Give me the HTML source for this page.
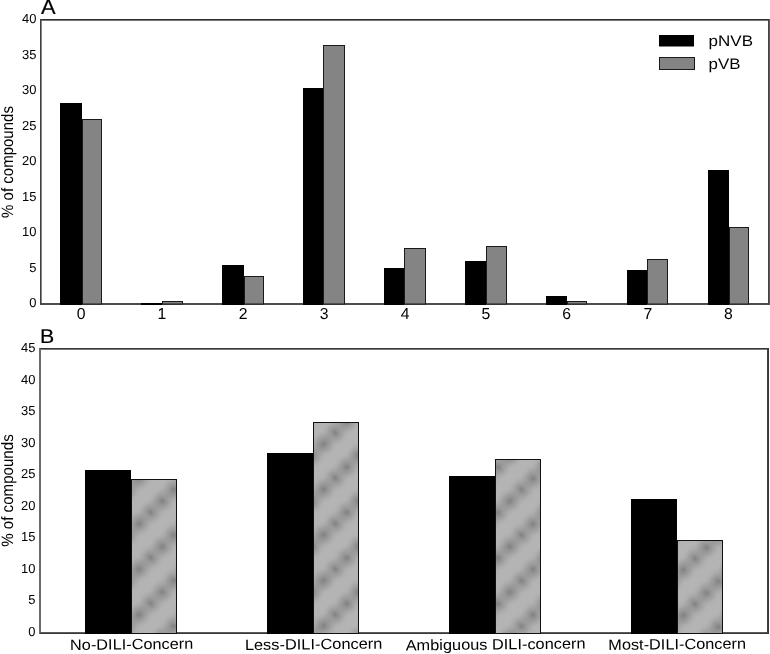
<!DOCTYPE html>
<html><head><meta charset="utf-8"><style>html,body{margin:0;padding:0;background:#fff;overflow:hidden}svg{display:block;filter:blur(0.3px)}</style></head><body>
<svg width="770" height="654" viewBox="0 0 770 654" font-family="'Liberation Sans', Arial, Helvetica, sans-serif" text-rendering="geometricPrecision">
<defs><radialGradient id="blob"><stop offset="0" stop-color="#7a7a7a" stop-opacity="0.9"/><stop offset="0.5" stop-color="#909090" stop-opacity="0.5"/><stop offset="1" stop-color="#b4b4b4" stop-opacity="0"/></radialGradient><pattern id="pB0" patternUnits="userSpaceOnUse" x="150.7" y="512.2" width="47.0" height="45.5"><rect width="47.0" height="45.5" fill="#b4b4b4"/><ellipse cx="-47.00" cy="-45.50" rx="16" ry="14" transform="rotate(-45 -47.00 -45.50)" fill="url(#blob)"/><ellipse cx="-47.00" cy="0.00" rx="16" ry="14" transform="rotate(-45 -47.00 0.00)" fill="url(#blob)"/><ellipse cx="-47.00" cy="45.50" rx="16" ry="14" transform="rotate(-45 -47.00 45.50)" fill="url(#blob)"/><ellipse cx="0.00" cy="-45.50" rx="16" ry="14" transform="rotate(-45 0.00 -45.50)" fill="url(#blob)"/><ellipse cx="0.00" cy="0.00" rx="16" ry="14" transform="rotate(-45 0.00 0.00)" fill="url(#blob)"/><ellipse cx="0.00" cy="45.50" rx="16" ry="14" transform="rotate(-45 0.00 45.50)" fill="url(#blob)"/><ellipse cx="47.00" cy="-45.50" rx="16" ry="14" transform="rotate(-45 47.00 -45.50)" fill="url(#blob)"/><ellipse cx="47.00" cy="0.00" rx="16" ry="14" transform="rotate(-45 47.00 0.00)" fill="url(#blob)"/><ellipse cx="47.00" cy="45.50" rx="16" ry="14" transform="rotate(-45 47.00 45.50)" fill="url(#blob)"/><ellipse cx="-35.25" cy="-11.38" rx="16" ry="14" transform="rotate(-45 -35.25 -11.38)" fill="url(#blob)"/><ellipse cx="-35.25" cy="34.12" rx="16" ry="14" transform="rotate(-45 -35.25 34.12)" fill="url(#blob)"/><ellipse cx="-35.25" cy="79.62" rx="16" ry="14" transform="rotate(-45 -35.25 79.62)" fill="url(#blob)"/><ellipse cx="11.75" cy="-11.38" rx="16" ry="14" transform="rotate(-45 11.75 -11.38)" fill="url(#blob)"/><ellipse cx="11.75" cy="34.12" rx="16" ry="14" transform="rotate(-45 11.75 34.12)" fill="url(#blob)"/><ellipse cx="11.75" cy="79.62" rx="16" ry="14" transform="rotate(-45 11.75 79.62)" fill="url(#blob)"/><ellipse cx="58.75" cy="-11.38" rx="16" ry="14" transform="rotate(-45 58.75 -11.38)" fill="url(#blob)"/><ellipse cx="58.75" cy="34.12" rx="16" ry="14" transform="rotate(-45 58.75 34.12)" fill="url(#blob)"/><ellipse cx="58.75" cy="79.62" rx="16" ry="14" transform="rotate(-45 58.75 79.62)" fill="url(#blob)"/><ellipse cx="-23.50" cy="-22.75" rx="16" ry="14" transform="rotate(-45 -23.50 -22.75)" fill="url(#blob)"/><ellipse cx="-23.50" cy="22.75" rx="16" ry="14" transform="rotate(-45 -23.50 22.75)" fill="url(#blob)"/><ellipse cx="-23.50" cy="68.25" rx="16" ry="14" transform="rotate(-45 -23.50 68.25)" fill="url(#blob)"/><ellipse cx="23.50" cy="-22.75" rx="16" ry="14" transform="rotate(-45 23.50 -22.75)" fill="url(#blob)"/><ellipse cx="23.50" cy="22.75" rx="16" ry="14" transform="rotate(-45 23.50 22.75)" fill="url(#blob)"/><ellipse cx="23.50" cy="68.25" rx="16" ry="14" transform="rotate(-45 23.50 68.25)" fill="url(#blob)"/><ellipse cx="70.50" cy="-22.75" rx="16" ry="14" transform="rotate(-45 70.50 -22.75)" fill="url(#blob)"/><ellipse cx="70.50" cy="22.75" rx="16" ry="14" transform="rotate(-45 70.50 22.75)" fill="url(#blob)"/><ellipse cx="70.50" cy="68.25" rx="16" ry="14" transform="rotate(-45 70.50 68.25)" fill="url(#blob)"/><ellipse cx="-11.75" cy="-34.12" rx="16" ry="14" transform="rotate(-45 -11.75 -34.12)" fill="url(#blob)"/><ellipse cx="-11.75" cy="11.38" rx="16" ry="14" transform="rotate(-45 -11.75 11.38)" fill="url(#blob)"/><ellipse cx="-11.75" cy="56.88" rx="16" ry="14" transform="rotate(-45 -11.75 56.88)" fill="url(#blob)"/><ellipse cx="35.25" cy="-34.12" rx="16" ry="14" transform="rotate(-45 35.25 -34.12)" fill="url(#blob)"/><ellipse cx="35.25" cy="11.38" rx="16" ry="14" transform="rotate(-45 35.25 11.38)" fill="url(#blob)"/><ellipse cx="35.25" cy="56.88" rx="16" ry="14" transform="rotate(-45 35.25 56.88)" fill="url(#blob)"/><ellipse cx="82.25" cy="-34.12" rx="16" ry="14" transform="rotate(-45 82.25 -34.12)" fill="url(#blob)"/><ellipse cx="82.25" cy="11.38" rx="16" ry="14" transform="rotate(-45 82.25 11.38)" fill="url(#blob)"/><ellipse cx="82.25" cy="56.88" rx="16" ry="14" transform="rotate(-45 82.25 56.88)" fill="url(#blob)"/></pattern><pattern id="pB1" patternUnits="userSpaceOnUse" x="335.25" y="432.6" width="47.0" height="45.5"><rect width="47.0" height="45.5" fill="#b4b4b4"/><ellipse cx="-47.00" cy="-45.50" rx="16" ry="14" transform="rotate(-45 -47.00 -45.50)" fill="url(#blob)"/><ellipse cx="-47.00" cy="0.00" rx="16" ry="14" transform="rotate(-45 -47.00 0.00)" fill="url(#blob)"/><ellipse cx="-47.00" cy="45.50" rx="16" ry="14" transform="rotate(-45 -47.00 45.50)" fill="url(#blob)"/><ellipse cx="0.00" cy="-45.50" rx="16" ry="14" transform="rotate(-45 0.00 -45.50)" fill="url(#blob)"/><ellipse cx="0.00" cy="0.00" rx="16" ry="14" transform="rotate(-45 0.00 0.00)" fill="url(#blob)"/><ellipse cx="0.00" cy="45.50" rx="16" ry="14" transform="rotate(-45 0.00 45.50)" fill="url(#blob)"/><ellipse cx="47.00" cy="-45.50" rx="16" ry="14" transform="rotate(-45 47.00 -45.50)" fill="url(#blob)"/><ellipse cx="47.00" cy="0.00" rx="16" ry="14" transform="rotate(-45 47.00 0.00)" fill="url(#blob)"/><ellipse cx="47.00" cy="45.50" rx="16" ry="14" transform="rotate(-45 47.00 45.50)" fill="url(#blob)"/><ellipse cx="-35.25" cy="-11.38" rx="16" ry="14" transform="rotate(-45 -35.25 -11.38)" fill="url(#blob)"/><ellipse cx="-35.25" cy="34.12" rx="16" ry="14" transform="rotate(-45 -35.25 34.12)" fill="url(#blob)"/><ellipse cx="-35.25" cy="79.62" rx="16" ry="14" transform="rotate(-45 -35.25 79.62)" fill="url(#blob)"/><ellipse cx="11.75" cy="-11.38" rx="16" ry="14" transform="rotate(-45 11.75 -11.38)" fill="url(#blob)"/><ellipse cx="11.75" cy="34.12" rx="16" ry="14" transform="rotate(-45 11.75 34.12)" fill="url(#blob)"/><ellipse cx="11.75" cy="79.62" rx="16" ry="14" transform="rotate(-45 11.75 79.62)" fill="url(#blob)"/><ellipse cx="58.75" cy="-11.38" rx="16" ry="14" transform="rotate(-45 58.75 -11.38)" fill="url(#blob)"/><ellipse cx="58.75" cy="34.12" rx="16" ry="14" transform="rotate(-45 58.75 34.12)" fill="url(#blob)"/><ellipse cx="58.75" cy="79.62" rx="16" ry="14" transform="rotate(-45 58.75 79.62)" fill="url(#blob)"/><ellipse cx="-23.50" cy="-22.75" rx="16" ry="14" transform="rotate(-45 -23.50 -22.75)" fill="url(#blob)"/><ellipse cx="-23.50" cy="22.75" rx="16" ry="14" transform="rotate(-45 -23.50 22.75)" fill="url(#blob)"/><ellipse cx="-23.50" cy="68.25" rx="16" ry="14" transform="rotate(-45 -23.50 68.25)" fill="url(#blob)"/><ellipse cx="23.50" cy="-22.75" rx="16" ry="14" transform="rotate(-45 23.50 -22.75)" fill="url(#blob)"/><ellipse cx="23.50" cy="22.75" rx="16" ry="14" transform="rotate(-45 23.50 22.75)" fill="url(#blob)"/><ellipse cx="23.50" cy="68.25" rx="16" ry="14" transform="rotate(-45 23.50 68.25)" fill="url(#blob)"/><ellipse cx="70.50" cy="-22.75" rx="16" ry="14" transform="rotate(-45 70.50 -22.75)" fill="url(#blob)"/><ellipse cx="70.50" cy="22.75" rx="16" ry="14" transform="rotate(-45 70.50 22.75)" fill="url(#blob)"/><ellipse cx="70.50" cy="68.25" rx="16" ry="14" transform="rotate(-45 70.50 68.25)" fill="url(#blob)"/><ellipse cx="-11.75" cy="-34.12" rx="16" ry="14" transform="rotate(-45 -11.75 -34.12)" fill="url(#blob)"/><ellipse cx="-11.75" cy="11.38" rx="16" ry="14" transform="rotate(-45 -11.75 11.38)" fill="url(#blob)"/><ellipse cx="-11.75" cy="56.88" rx="16" ry="14" transform="rotate(-45 -11.75 56.88)" fill="url(#blob)"/><ellipse cx="35.25" cy="-34.12" rx="16" ry="14" transform="rotate(-45 35.25 -34.12)" fill="url(#blob)"/><ellipse cx="35.25" cy="11.38" rx="16" ry="14" transform="rotate(-45 35.25 11.38)" fill="url(#blob)"/><ellipse cx="35.25" cy="56.88" rx="16" ry="14" transform="rotate(-45 35.25 56.88)" fill="url(#blob)"/><ellipse cx="82.25" cy="-34.12" rx="16" ry="14" transform="rotate(-45 82.25 -34.12)" fill="url(#blob)"/><ellipse cx="82.25" cy="11.38" rx="16" ry="14" transform="rotate(-45 82.25 11.38)" fill="url(#blob)"/><ellipse cx="82.25" cy="56.88" rx="16" ry="14" transform="rotate(-45 82.25 56.88)" fill="url(#blob)"/></pattern><pattern id="pB2" patternUnits="userSpaceOnUse" x="521.5" y="489.7" width="47.0" height="45.5"><rect width="47.0" height="45.5" fill="#b4b4b4"/><ellipse cx="-47.00" cy="-45.50" rx="16" ry="14" transform="rotate(-45 -47.00 -45.50)" fill="url(#blob)"/><ellipse cx="-47.00" cy="0.00" rx="16" ry="14" transform="rotate(-45 -47.00 0.00)" fill="url(#blob)"/><ellipse cx="-47.00" cy="45.50" rx="16" ry="14" transform="rotate(-45 -47.00 45.50)" fill="url(#blob)"/><ellipse cx="0.00" cy="-45.50" rx="16" ry="14" transform="rotate(-45 0.00 -45.50)" fill="url(#blob)"/><ellipse cx="0.00" cy="0.00" rx="16" ry="14" transform="rotate(-45 0.00 0.00)" fill="url(#blob)"/><ellipse cx="0.00" cy="45.50" rx="16" ry="14" transform="rotate(-45 0.00 45.50)" fill="url(#blob)"/><ellipse cx="47.00" cy="-45.50" rx="16" ry="14" transform="rotate(-45 47.00 -45.50)" fill="url(#blob)"/><ellipse cx="47.00" cy="0.00" rx="16" ry="14" transform="rotate(-45 47.00 0.00)" fill="url(#blob)"/><ellipse cx="47.00" cy="45.50" rx="16" ry="14" transform="rotate(-45 47.00 45.50)" fill="url(#blob)"/><ellipse cx="-35.25" cy="-11.38" rx="16" ry="14" transform="rotate(-45 -35.25 -11.38)" fill="url(#blob)"/><ellipse cx="-35.25" cy="34.12" rx="16" ry="14" transform="rotate(-45 -35.25 34.12)" fill="url(#blob)"/><ellipse cx="-35.25" cy="79.62" rx="16" ry="14" transform="rotate(-45 -35.25 79.62)" fill="url(#blob)"/><ellipse cx="11.75" cy="-11.38" rx="16" ry="14" transform="rotate(-45 11.75 -11.38)" fill="url(#blob)"/><ellipse cx="11.75" cy="34.12" rx="16" ry="14" transform="rotate(-45 11.75 34.12)" fill="url(#blob)"/><ellipse cx="11.75" cy="79.62" rx="16" ry="14" transform="rotate(-45 11.75 79.62)" fill="url(#blob)"/><ellipse cx="58.75" cy="-11.38" rx="16" ry="14" transform="rotate(-45 58.75 -11.38)" fill="url(#blob)"/><ellipse cx="58.75" cy="34.12" rx="16" ry="14" transform="rotate(-45 58.75 34.12)" fill="url(#blob)"/><ellipse cx="58.75" cy="79.62" rx="16" ry="14" transform="rotate(-45 58.75 79.62)" fill="url(#blob)"/><ellipse cx="-23.50" cy="-22.75" rx="16" ry="14" transform="rotate(-45 -23.50 -22.75)" fill="url(#blob)"/><ellipse cx="-23.50" cy="22.75" rx="16" ry="14" transform="rotate(-45 -23.50 22.75)" fill="url(#blob)"/><ellipse cx="-23.50" cy="68.25" rx="16" ry="14" transform="rotate(-45 -23.50 68.25)" fill="url(#blob)"/><ellipse cx="23.50" cy="-22.75" rx="16" ry="14" transform="rotate(-45 23.50 -22.75)" fill="url(#blob)"/><ellipse cx="23.50" cy="22.75" rx="16" ry="14" transform="rotate(-45 23.50 22.75)" fill="url(#blob)"/><ellipse cx="23.50" cy="68.25" rx="16" ry="14" transform="rotate(-45 23.50 68.25)" fill="url(#blob)"/><ellipse cx="70.50" cy="-22.75" rx="16" ry="14" transform="rotate(-45 70.50 -22.75)" fill="url(#blob)"/><ellipse cx="70.50" cy="22.75" rx="16" ry="14" transform="rotate(-45 70.50 22.75)" fill="url(#blob)"/><ellipse cx="70.50" cy="68.25" rx="16" ry="14" transform="rotate(-45 70.50 68.25)" fill="url(#blob)"/><ellipse cx="-11.75" cy="-34.12" rx="16" ry="14" transform="rotate(-45 -11.75 -34.12)" fill="url(#blob)"/><ellipse cx="-11.75" cy="11.38" rx="16" ry="14" transform="rotate(-45 -11.75 11.38)" fill="url(#blob)"/><ellipse cx="-11.75" cy="56.88" rx="16" ry="14" transform="rotate(-45 -11.75 56.88)" fill="url(#blob)"/><ellipse cx="35.25" cy="-34.12" rx="16" ry="14" transform="rotate(-45 35.25 -34.12)" fill="url(#blob)"/><ellipse cx="35.25" cy="11.38" rx="16" ry="14" transform="rotate(-45 35.25 11.38)" fill="url(#blob)"/><ellipse cx="35.25" cy="56.88" rx="16" ry="14" transform="rotate(-45 35.25 56.88)" fill="url(#blob)"/><ellipse cx="82.25" cy="-34.12" rx="16" ry="14" transform="rotate(-45 82.25 -34.12)" fill="url(#blob)"/><ellipse cx="82.25" cy="11.38" rx="16" ry="14" transform="rotate(-45 82.25 11.38)" fill="url(#blob)"/><ellipse cx="82.25" cy="56.88" rx="16" ry="14" transform="rotate(-45 82.25 56.88)" fill="url(#blob)"/></pattern><pattern id="pB3" patternUnits="userSpaceOnUse" x="695" y="558.6" width="47.0" height="45.5"><rect width="47.0" height="45.5" fill="#b4b4b4"/><ellipse cx="-47.00" cy="-45.50" rx="16" ry="14" transform="rotate(-45 -47.00 -45.50)" fill="url(#blob)"/><ellipse cx="-47.00" cy="0.00" rx="16" ry="14" transform="rotate(-45 -47.00 0.00)" fill="url(#blob)"/><ellipse cx="-47.00" cy="45.50" rx="16" ry="14" transform="rotate(-45 -47.00 45.50)" fill="url(#blob)"/><ellipse cx="0.00" cy="-45.50" rx="16" ry="14" transform="rotate(-45 0.00 -45.50)" fill="url(#blob)"/><ellipse cx="0.00" cy="0.00" rx="16" ry="14" transform="rotate(-45 0.00 0.00)" fill="url(#blob)"/><ellipse cx="0.00" cy="45.50" rx="16" ry="14" transform="rotate(-45 0.00 45.50)" fill="url(#blob)"/><ellipse cx="47.00" cy="-45.50" rx="16" ry="14" transform="rotate(-45 47.00 -45.50)" fill="url(#blob)"/><ellipse cx="47.00" cy="0.00" rx="16" ry="14" transform="rotate(-45 47.00 0.00)" fill="url(#blob)"/><ellipse cx="47.00" cy="45.50" rx="16" ry="14" transform="rotate(-45 47.00 45.50)" fill="url(#blob)"/><ellipse cx="-35.25" cy="-11.38" rx="16" ry="14" transform="rotate(-45 -35.25 -11.38)" fill="url(#blob)"/><ellipse cx="-35.25" cy="34.12" rx="16" ry="14" transform="rotate(-45 -35.25 34.12)" fill="url(#blob)"/><ellipse cx="-35.25" cy="79.62" rx="16" ry="14" transform="rotate(-45 -35.25 79.62)" fill="url(#blob)"/><ellipse cx="11.75" cy="-11.38" rx="16" ry="14" transform="rotate(-45 11.75 -11.38)" fill="url(#blob)"/><ellipse cx="11.75" cy="34.12" rx="16" ry="14" transform="rotate(-45 11.75 34.12)" fill="url(#blob)"/><ellipse cx="11.75" cy="79.62" rx="16" ry="14" transform="rotate(-45 11.75 79.62)" fill="url(#blob)"/><ellipse cx="58.75" cy="-11.38" rx="16" ry="14" transform="rotate(-45 58.75 -11.38)" fill="url(#blob)"/><ellipse cx="58.75" cy="34.12" rx="16" ry="14" transform="rotate(-45 58.75 34.12)" fill="url(#blob)"/><ellipse cx="58.75" cy="79.62" rx="16" ry="14" transform="rotate(-45 58.75 79.62)" fill="url(#blob)"/><ellipse cx="-23.50" cy="-22.75" rx="16" ry="14" transform="rotate(-45 -23.50 -22.75)" fill="url(#blob)"/><ellipse cx="-23.50" cy="22.75" rx="16" ry="14" transform="rotate(-45 -23.50 22.75)" fill="url(#blob)"/><ellipse cx="-23.50" cy="68.25" rx="16" ry="14" transform="rotate(-45 -23.50 68.25)" fill="url(#blob)"/><ellipse cx="23.50" cy="-22.75" rx="16" ry="14" transform="rotate(-45 23.50 -22.75)" fill="url(#blob)"/><ellipse cx="23.50" cy="22.75" rx="16" ry="14" transform="rotate(-45 23.50 22.75)" fill="url(#blob)"/><ellipse cx="23.50" cy="68.25" rx="16" ry="14" transform="rotate(-45 23.50 68.25)" fill="url(#blob)"/><ellipse cx="70.50" cy="-22.75" rx="16" ry="14" transform="rotate(-45 70.50 -22.75)" fill="url(#blob)"/><ellipse cx="70.50" cy="22.75" rx="16" ry="14" transform="rotate(-45 70.50 22.75)" fill="url(#blob)"/><ellipse cx="70.50" cy="68.25" rx="16" ry="14" transform="rotate(-45 70.50 68.25)" fill="url(#blob)"/><ellipse cx="-11.75" cy="-34.12" rx="16" ry="14" transform="rotate(-45 -11.75 -34.12)" fill="url(#blob)"/><ellipse cx="-11.75" cy="11.38" rx="16" ry="14" transform="rotate(-45 -11.75 11.38)" fill="url(#blob)"/><ellipse cx="-11.75" cy="56.88" rx="16" ry="14" transform="rotate(-45 -11.75 56.88)" fill="url(#blob)"/><ellipse cx="35.25" cy="-34.12" rx="16" ry="14" transform="rotate(-45 35.25 -34.12)" fill="url(#blob)"/><ellipse cx="35.25" cy="11.38" rx="16" ry="14" transform="rotate(-45 35.25 11.38)" fill="url(#blob)"/><ellipse cx="35.25" cy="56.88" rx="16" ry="14" transform="rotate(-45 35.25 56.88)" fill="url(#blob)"/><ellipse cx="82.25" cy="-34.12" rx="16" ry="14" transform="rotate(-45 82.25 -34.12)" fill="url(#blob)"/><ellipse cx="82.25" cy="11.38" rx="16" ry="14" transform="rotate(-45 82.25 11.38)" fill="url(#blob)"/><ellipse cx="82.25" cy="56.88" rx="16" ry="14" transform="rotate(-45 82.25 56.88)" fill="url(#blob)"/></pattern></defs>
<rect width="770" height="654" fill="#fff"/>
<rect x="40" y="19" width="730" height="1" fill="#303030"/>
<rect x="40" y="20" width="730" height="1" fill="#747474"/>
<rect x="40" y="303" width="730" height="1" fill="#4d4d4d"/>
<rect x="40" y="304" width="730" height="1" fill="#4d4d4d"/>
<rect x="40" y="19" width="1" height="286" fill="#404040"/>
<rect x="41" y="21" width="1" height="282" fill="#858585"/>
<rect x="768" y="20" width="1" height="285" fill="#444"/>
<rect x="769" y="19" width="1" height="286" fill="#5a5a5a"/>
<rect x="60" y="103" width="22" height="202" fill="#000"/>
<rect x="82.5" y="119.5" width="19" height="184.5" fill="#848484" stroke="#1a1a1a" stroke-width="1"/>
<rect x="141" y="303" width="21" height="2" fill="#000"/>
<rect x="162.5" y="301.5" width="20" height="2.5" fill="#848484" stroke="#1a1a1a" stroke-width="1"/>
<rect x="222" y="265" width="22" height="40" fill="#000"/>
<rect x="244.5" y="276.5" width="19" height="27.5" fill="#848484" stroke="#1a1a1a" stroke-width="1"/>
<rect x="303" y="88" width="20" height="217" fill="#000"/>
<rect x="323.5" y="45.5" width="21" height="258.5" fill="#848484" stroke="#1a1a1a" stroke-width="1"/>
<rect x="384" y="268" width="20" height="37" fill="#000"/>
<rect x="404.5" y="248.5" width="21" height="55.5" fill="#848484" stroke="#1a1a1a" stroke-width="1"/>
<rect x="465" y="261" width="21" height="44" fill="#000"/>
<rect x="486.5" y="246.5" width="20" height="57.5" fill="#848484" stroke="#1a1a1a" stroke-width="1"/>
<rect x="546" y="296" width="21" height="9" fill="#000"/>
<rect x="567.5" y="301.5" width="19" height="2.5" fill="#848484" stroke="#1a1a1a" stroke-width="1"/>
<rect x="627" y="270" width="20" height="35" fill="#000"/>
<rect x="647.5" y="259.5" width="20" height="44.5" fill="#848484" stroke="#1a1a1a" stroke-width="1"/>
<rect x="708" y="170" width="21" height="135" fill="#000"/>
<rect x="729.5" y="227.5" width="19" height="76.5" fill="#848484" stroke="#1a1a1a" stroke-width="1"/>
<text transform="translate(29.23,307.00) scale(0.9969,1)" font-size="13" fill="#000">0</text>
<text transform="translate(29.23,271.50) scale(0.9969,1)" font-size="13" fill="#000">5</text>
<text transform="translate(22.03,236.00) scale(0.9969,1)" font-size="13" fill="#000">10</text>
<text transform="translate(22.03,200.50) scale(0.9969,1)" font-size="13" fill="#000">15</text>
<text transform="translate(22.03,165.00) scale(0.9969,1)" font-size="13" fill="#000">20</text>
<text transform="translate(22.03,129.50) scale(0.9969,1)" font-size="13" fill="#000">25</text>
<text transform="translate(22.03,94.00) scale(0.9969,1)" font-size="13" fill="#000">30</text>
<text transform="translate(22.03,58.50) scale(0.9969,1)" font-size="13" fill="#000">35</text>
<text transform="translate(22.03,23.00) scale(0.9969,1)" font-size="13" fill="#000">40</text>
<text transform="translate(76.78,318.70) scale(0.9906,1)" font-size="15.9" fill="#000">0</text>
<text transform="translate(157.58,318.70) scale(0.9906,1)" font-size="15.9" fill="#000">1</text>
<text transform="translate(238.75,318.70) scale(0.9906,1)" font-size="15.9" fill="#000">2</text>
<text transform="translate(319.77,318.70) scale(0.9906,1)" font-size="15.9" fill="#000">3</text>
<text transform="translate(400.63,318.70) scale(0.9906,1)" font-size="15.9" fill="#000">4</text>
<text transform="translate(481.58,318.70) scale(0.9906,1)" font-size="15.9" fill="#000">5</text>
<text transform="translate(562.28,318.70) scale(0.9906,1)" font-size="15.9" fill="#000">6</text>
<text transform="translate(643.38,318.70) scale(0.9906,1)" font-size="15.9" fill="#000">7</text>
<text transform="translate(724.03,318.70) scale(0.9906,1)" font-size="15.9" fill="#000">8</text>
<text stroke="#000" stroke-width="0.2" transform="translate(40.89,14.40) scale(1.0390,1)" font-size="21" fill="#000">A</text>
<rect x="659" y="35" width="35" height="11.5" fill="#000"/>
<rect x="659.5" y="57.5" width="35" height="12" fill="#848484" stroke="#1a1a1a" stroke-width="1"/>
<text transform="translate(708.60,45.80) scale(1.1107,1)" font-size="15.3" fill="#000">pNVB</text>
<text transform="translate(708.60,68.80) scale(1.1047,1)" font-size="15.3" fill="#000">pVB</text>
<text transform="translate(12.50,217.93) rotate(-90) scale(1.0009,1.1)" font-size="15">% of compounds</text>
<rect x="39" y="348" width="730" height="1" fill="#383838"/>
<rect x="39" y="349" width="730" height="1" fill="#7a7a7a"/>
<rect x="39" y="632" width="730" height="1" fill="#5a5a5a"/>
<rect x="39" y="633" width="730" height="1" fill="#383838"/>
<rect x="39" y="348" width="1" height="286" fill="#6a6a6a"/>
<rect x="40" y="350" width="1" height="282" fill="#6a6a6a"/>
<rect x="767" y="349" width="1" height="285" fill="#404040"/>
<rect x="768" y="348" width="1" height="286" fill="#383838"/>
<rect x="85" y="470" width="46" height="164" fill="#000"/>
<rect x="131.5" y="479.5" width="45" height="154.0" fill="url(#pB0)" stroke="#111" stroke-width="1"/>
<rect x="267" y="453" width="46" height="181" fill="#000"/>
<rect x="313.5" y="422.5" width="45" height="211.0" fill="url(#pB1)" stroke="#111" stroke-width="1"/>
<rect x="449" y="476" width="46" height="158" fill="#000"/>
<rect x="495.5" y="459.5" width="45" height="174.0" fill="url(#pB2)" stroke="#111" stroke-width="1"/>
<rect x="631" y="499" width="46" height="135" fill="#000"/>
<rect x="677.5" y="540.5" width="45" height="93.0" fill="url(#pB3)" stroke="#111" stroke-width="1"/>
<text transform="translate(28.23,636.00) scale(0.9969,1)" font-size="13" fill="#000">0</text>
<text transform="translate(28.23,604.44) scale(0.9969,1)" font-size="13" fill="#000">5</text>
<text transform="translate(21.03,572.89) scale(0.9969,1)" font-size="13" fill="#000">10</text>
<text transform="translate(21.03,541.33) scale(0.9969,1)" font-size="13" fill="#000">15</text>
<text transform="translate(21.03,509.78) scale(0.9969,1)" font-size="13" fill="#000">20</text>
<text transform="translate(21.03,478.22) scale(0.9969,1)" font-size="13" fill="#000">25</text>
<text transform="translate(21.03,446.67) scale(0.9969,1)" font-size="13" fill="#000">30</text>
<text transform="translate(21.03,415.11) scale(0.9969,1)" font-size="13" fill="#000">35</text>
<text transform="translate(21.03,383.56) scale(0.9969,1)" font-size="13" fill="#000">40</text>
<text transform="translate(21.03,352.00) scale(0.9969,1)" font-size="13" fill="#000">45</text>
<text transform="translate(70.10,650.00) rotate(-0.6) scale(1.0859,1)" font-size="15" fill="#000">No-DILI-Concern</text>
<text transform="translate(244.89,650.00) rotate(-0.6) scale(1.0924,1)" font-size="15" fill="#000">Less-DILI-Concern</text>
<text transform="translate(405.72,650.40) rotate(-0.6) scale(1.0895,1)" font-size="15" fill="#000">Ambiguous DILI-concern</text>
<text transform="translate(608.29,650.00) rotate(-0.6) scale(1.0876,1)" font-size="15" fill="#000">Most-DILI-Concern</text>
<text stroke="#000" stroke-width="0.2" transform="translate(39.90,343.40) scale(1.0654,1)" font-size="20" fill="#000">B</text>
<text transform="translate(12.50,546.83) rotate(-90) scale(1.0072,1.1)" font-size="15">% of compounds</text>
</svg>
</body></html>
